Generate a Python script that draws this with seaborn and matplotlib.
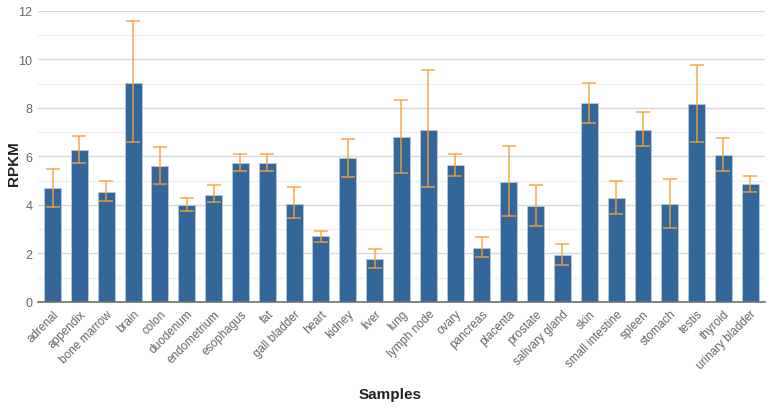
import matplotlib
matplotlib.use("Agg")
import matplotlib.pyplot as plt
import seaborn as sns
import numpy as np
import pandas as pd
from matplotlib.ticker import MultipleLocator

samples = ["adrenal", "appendix", "bone marrow", "brain", "colon", "duodenum",
           "endometrium", "esophagus", "fat", "gall bladder", "heart", "kidney",
           "liver", "lung", "lymph node", "ovary", "pancreas", "placenta",
           "prostate", "salivary gland", "skin", "small intestine", "spleen",
           "stomach", "testis", "thyroid", "urinary bladder"]
rpkm = [4.68, 6.25, 4.54, 9.03, 5.60, 3.98, 4.43, 5.74, 5.71, 4.06, 2.70, 5.92,
        1.76, 6.81, 7.11, 5.64, 2.24, 4.95, 3.96, 1.93, 8.19, 4.27, 7.11, 4.03,
        8.15, 6.06, 4.86]
err_high = [5.50, 6.83, 4.98, 11.57, 6.37, 4.28, 4.82, 6.10, 6.11, 4.72, 2.94, 6.72,
            2.18, 8.34, 9.55, 6.11, 2.68, 6.41, 4.83, 2.41, 9.01, 5.00, 7.84, 5.08,
            9.77, 6.76, 5.21]
err_low = [3.91, 5.74, 4.17, 6.59, 4.88, 3.76, 4.12, 5.42, 5.40, 3.47, 2.48, 5.16,
           1.42, 5.33, 4.74, 5.21, 1.87, 3.54, 3.14, 1.53, 7.38, 3.61, 6.44, 3.04,
           6.58, 5.40, 4.54]

df = pd.DataFrame({"Samples": samples, "RPKM": rpkm})

sns.set_theme(style="white")
plt.rcParams['font.family'] = ['Liberation Sans', 'DejaVu Sans']

fig = plt.figure(figsize=(7.72, 4.10), dpi=100)
ax = fig.add_axes([0.049, 0.261, 0.942, 0.71])

sns.barplot(data=df, x="Samples", y="RPKM", color="#336699", saturation=1,
            width=0.63, edgecolor="#b8c8dc", linewidth=0.6, ax=ax, zorder=2)

xs = ax.get_xticks()
vals = np.array(rpkm)
yerr = np.vstack([vals - np.array(err_low), np.array(err_high) - vals])
ax.errorbar(xs, vals, yerr=yerr, fmt="none", ecolor="#f7a035", elinewidth=1.1,
            capsize=5, capthick=1.1, alpha=0.9, zorder=3)

ax.set_ylim(0, 12)
ax.set_xlim(-0.55, len(samples) - 0.45)
ax.yaxis.set_major_locator(MultipleLocator(2))
ax.yaxis.set_minor_locator(MultipleLocator(1))
ax.grid(axis="y", which="major", color="#d8d8d8", linewidth=1, zorder=0)
ax.grid(axis="y", which="minor", color="#f0f0f0", linewidth=1, zorder=0)
ax.set_axisbelow(True)
for s in ["left", "right", "top"]:
    ax.spines[s].set_visible(False)
ax.spines["bottom"].set_color("#707070")
ax.spines["bottom"].set_linewidth(1.2)

ax.tick_params(axis="y", which="both", length=0, labelsize=9, labelcolor="#666666", pad=4)
ax.tick_params(axis="x", length=0, labelsize=8.5, labelcolor="#666666", pad=4)
plt.setp(ax.get_xticklabels(), rotation=45, ha="right", rotation_mode="anchor")

ax.set_ylabel("")
ax.set_xlabel("")
fig.text(14 / 772, 0.60, "RPKM", ha="center", va="center", rotation=90,
         fontsize=11, fontweight="bold", color="#222222")
fig.text(0.505, 0.037, "Samples", ha="center", va="center", fontsize=11,
         fontweight="bold", color="#222222")

fig.savefig("out.png", dpi=100)
